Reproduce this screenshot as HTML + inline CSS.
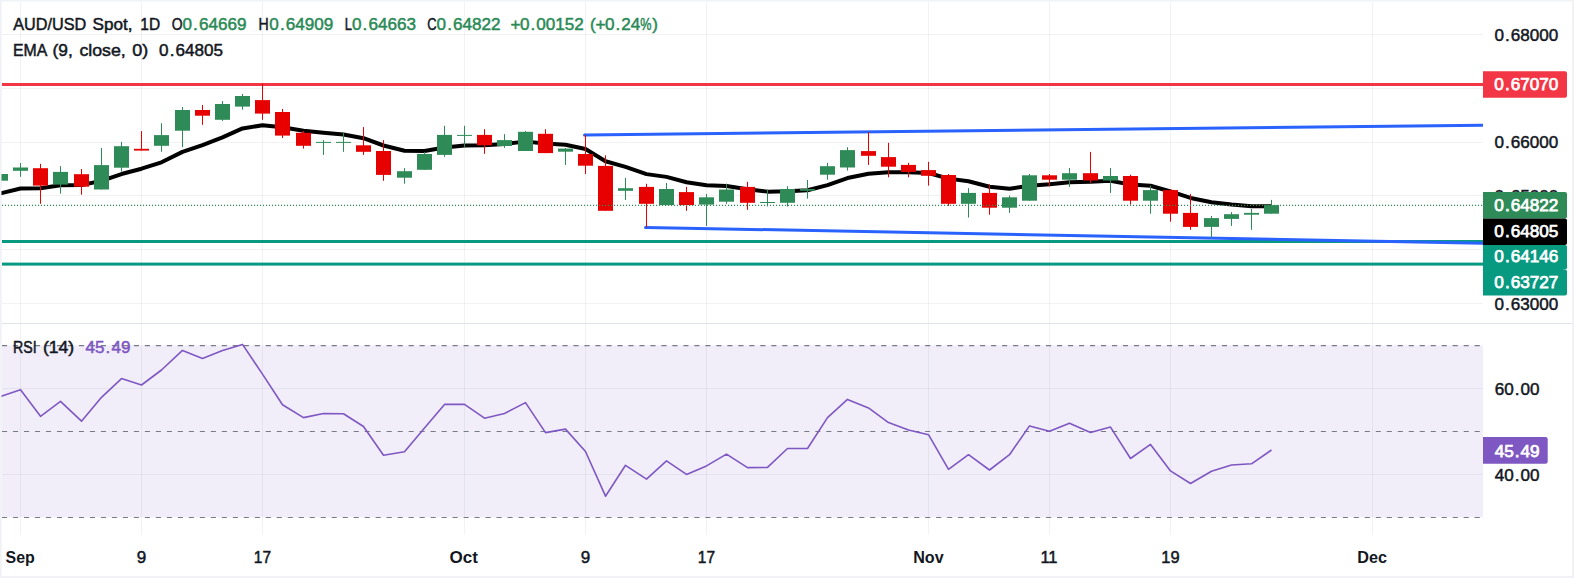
<!DOCTYPE html>
<html lang="en"><head><meta charset="utf-8"><title>AUD/USD Spot, 1D</title>
<style>html,body{margin:0;padding:0;background:#fff;}body{width:1574px;height:578px;overflow:hidden;font-family:"Liberation Sans",Arial,sans-serif;}svg{display:block;}</style>
</head><body>
<svg width="1574" height="578" viewBox="0 0 1574 578">
<rect x="0" y="0" width="1574" height="578" fill="#f0f2f6"/>
<rect x="1.5" y="1.5" width="1570.5" height="574.5" fill="#ffffff"/>
<rect x="2" y="345.3" width="1481" height="171.99999999999994" fill="#f1eefa"/>
<path d="M20.5 2V323M20.5 324V534.5 M141.5 2V323M141.5 324V534.5 M262.5 2V323M262.5 324V534.5 M464.5 2V323M464.5 324V534.5 M585.5 2V323M585.5 324V534.5 M706.5 2V323M706.5 324V534.5 M928.5 2V323M928.5 324V534.5 M1049.5 2V323M1049.5 324V534.5 M1170.5 2V323M1170.5 324V534.5 M1372.5 2V323M1372.5 324V534.5 M2 34.5H1483 M2 88.5H1483 M2 142.5H1483 M2 195.5H1483 M2 249.5H1483 M2 303.5H1483 M2 388.5H1483 M2 474.5H1483" stroke="rgba(42,46,57,0.062)" stroke-width="1" fill="none"/>
<rect x="1.5" y="323" width="1570.5" height="1" fill="#e0e3eb"/>
<rect x="2" y="83" width="1481" height="3" fill="#f23645"/>
<rect x="2" y="240" width="1481" height="3" fill="#089981"/>
<rect x="2" y="262.6" width="1481" height="3" fill="#089981"/>
<polyline points="0.5,193.4 20.5,188.46 40.5,188.2 60.5,185.22 81.5,184.93 101.5,180.85 121.5,174.02 141.5,168.72 161.5,162.3 182.5,151.9 202.5,145.02 222.5,137.3 242.5,128.44 262.5,125.25 282.5,127.31 303.5,130.69 323.5,132.81 343.5,134.57 363.5,138.19 383.5,145.5 404.5,150.75 424.5,151.07 444.5,147.46 464.5,145.39 484.5,145.22 504.5,143.89 525.5,141.63 545.5,143.4 565.5,144.8 585.5,148.97 605.5,161.24 625.5,166.91 646.5,174.11 666.5,176.89 686.5,182.28 706.5,185.28 726.5,186.02 747.5,189.25 767.5,191.63 787.5,191.17 807.5,190.26 827.5,185.18 847.5,178.08 868.5,173.73 888.5,172.32 908.5,172.24 928.5,172.96 948.5,178.62 968.5,181.27 989.5,186.69 1009.5,188.7 1029.5,185.76 1049.5,184.34 1069.5,182.25 1090.5,181.63 1110.5,180.75 1130.5,184.62 1150.5,185.79 1170.5,191.46 1190.5,197.95 1211.5,202.25 1231.5,204.57 1251.5,206.18 1271.5,206.14" stroke="#000" stroke-width="4" fill="none" stroke-linejoin="round"/>
<path d="M584.5 135L1483 125.2" stroke="#2962ff" stroke-width="3" fill="none"/><circle cx="584.5" cy="135" r="1.5" fill="#2962ff"/>
<path d="M645.5 227.4L1483 243.2" stroke="#2962ff" stroke-width="3" fill="none"/><circle cx="645.5" cy="227.4" r="1.5" fill="#2962ff"/>
<rect x="-7.0" y="174.0" width="15" height="6.7" fill="#2e8b57"/>
<rect x="20.0" y="163.0" width="1" height="13.8" fill="#2e8b57"/>
<rect x="13.0" y="167.5" width="15" height="3.3" fill="#2e8b57"/>
<rect x="40.0" y="163.8" width="1" height="40.0" fill="#e60000"/>
<rect x="33.0" y="168.2" width="15" height="17.4" fill="#e60000"/>
<rect x="60.0" y="166.2" width="1" height="27.5" fill="#2e8b57"/>
<rect x="53.0" y="171.9" width="15" height="12.7" fill="#2e8b57"/>
<rect x="81.0" y="169.0" width="1" height="25.7" fill="#e60000"/>
<rect x="74.0" y="174.2" width="15" height="12.5" fill="#e60000"/>
<rect x="101.0" y="148.0" width="1" height="41.5" fill="#2e8b57"/>
<rect x="94.0" y="165.1" width="15" height="24.4" fill="#2e8b57"/>
<rect x="121.0" y="141.8" width="1" height="29.6" fill="#2e8b57"/>
<rect x="114.0" y="146.2" width="15" height="21.5" fill="#2e8b57"/>
<rect x="141.0" y="131.1" width="1" height="19.5" fill="#e60000"/>
<rect x="134.0" y="148.8" width="15" height="1.8" fill="#e60000"/>
<rect x="161.0" y="123.2" width="1" height="28.6" fill="#2e8b57"/>
<rect x="154.0" y="135.1" width="15" height="10.7" fill="#2e8b57"/>
<rect x="182.0" y="107.1" width="1" height="40.0" fill="#2e8b57"/>
<rect x="175.0" y="110.0" width="15" height="20.7" fill="#2e8b57"/>
<rect x="202.0" y="105.0" width="1" height="19.8" fill="#e60000"/>
<rect x="195.0" y="110.0" width="15" height="5.7" fill="#e60000"/>
<rect x="222.0" y="101.1" width="1" height="19.8" fill="#2e8b57"/>
<rect x="215.0" y="104.0" width="15" height="15.8" fill="#2e8b57"/>
<rect x="242.0" y="93.9" width="1" height="15.8" fill="#2e8b57"/>
<rect x="235.0" y="96.0" width="15" height="10.6" fill="#2e8b57"/>
<rect x="262.0" y="83.5" width="1" height="36.3" fill="#e60000"/>
<rect x="255.0" y="100.1" width="15" height="13.5" fill="#e60000"/>
<rect x="282.0" y="108.9" width="1" height="29.1" fill="#e60000"/>
<rect x="275.0" y="112.0" width="15" height="23.6" fill="#e60000"/>
<rect x="303.0" y="131.0" width="1" height="17.6" fill="#e60000"/>
<rect x="296.0" y="132.8" width="15" height="13.0" fill="#e60000"/>
<rect x="323.0" y="140.1" width="1" height="14.8" fill="#2e8b57"/>
<rect x="316.0" y="141.9" width="15" height="1.0" fill="#2e8b57"/>
<rect x="343.0" y="132.8" width="1" height="19.0" fill="#2e8b57"/>
<rect x="336.0" y="141.9" width="15" height="1.0" fill="#2e8b57"/>
<rect x="363.0" y="127.1" width="1" height="27.8" fill="#e60000"/>
<rect x="356.0" y="145.3" width="15" height="6.5" fill="#e60000"/>
<rect x="383.0" y="140.1" width="1" height="40.7" fill="#e60000"/>
<rect x="376.0" y="151.0" width="15" height="23.9" fill="#e60000"/>
<rect x="404.0" y="168.1" width="1" height="15.6" fill="#2e8b57"/>
<rect x="397.0" y="171.2" width="15" height="6.5" fill="#2e8b57"/>
<rect x="424.0" y="152.0" width="1" height="17.8" fill="#2e8b57"/>
<rect x="417.0" y="154.0" width="15" height="15.8" fill="#2e8b57"/>
<rect x="444.0" y="125.8" width="1" height="31.1" fill="#2e8b57"/>
<rect x="437.0" y="134.9" width="15" height="20.0" fill="#2e8b57"/>
<rect x="464.0" y="125.8" width="1" height="21.3" fill="#2e8b57"/>
<rect x="457.0" y="134.9" width="15" height="1.0" fill="#2e8b57"/>
<rect x="484.0" y="129.2" width="1" height="24.6" fill="#e60000"/>
<rect x="477.0" y="134.9" width="15" height="10.4" fill="#e60000"/>
<rect x="504.0" y="134.1" width="1" height="13.8" fill="#2e8b57"/>
<rect x="497.0" y="140.1" width="15" height="5.9" fill="#2e8b57"/>
<rect x="525.0" y="131.0" width="1" height="20.0" fill="#2e8b57"/>
<rect x="518.0" y="131.8" width="15" height="19.2" fill="#2e8b57"/>
<rect x="545.0" y="129.2" width="1" height="23.9" fill="#e60000"/>
<rect x="538.0" y="133.8" width="15" height="19.3" fill="#e60000"/>
<rect x="565.0" y="148.0" width="1" height="16.9" fill="#2e8b57"/>
<rect x="558.0" y="148.6" width="15" height="3.1" fill="#2e8b57"/>
<rect x="585.0" y="135.0" width="1" height="39.0" fill="#e60000"/>
<rect x="578.0" y="154.0" width="15" height="11.7" fill="#e60000"/>
<rect x="605.0" y="155.3" width="1" height="55.5" fill="#e60000"/>
<rect x="598.0" y="165.9" width="15" height="44.9" fill="#e60000"/>
<rect x="625.0" y="177.9" width="1" height="22.0" fill="#2e8b57"/>
<rect x="618.0" y="188.2" width="15" height="2.6" fill="#2e8b57"/>
<rect x="646.0" y="183.8" width="1" height="43.4" fill="#e60000"/>
<rect x="639.0" y="186.9" width="15" height="16.9" fill="#e60000"/>
<rect x="666.0" y="183.0" width="1" height="22.1" fill="#2e8b57"/>
<rect x="659.0" y="189.0" width="15" height="16.1" fill="#2e8b57"/>
<rect x="686.0" y="186.9" width="1" height="23.9" fill="#e60000"/>
<rect x="679.0" y="192.1" width="15" height="13.0" fill="#e60000"/>
<rect x="706.0" y="194.0" width="1" height="31.9" fill="#2e8b57"/>
<rect x="699.0" y="197.3" width="15" height="7.3" fill="#2e8b57"/>
<rect x="726.0" y="183.6" width="1" height="20.2" fill="#2e8b57"/>
<rect x="719.0" y="189.5" width="15" height="12.2" fill="#2e8b57"/>
<rect x="747.0" y="181.8" width="1" height="28.0" fill="#e60000"/>
<rect x="740.0" y="186.9" width="15" height="15.9" fill="#e60000"/>
<rect x="767.0" y="189.5" width="1" height="16.9" fill="#2e8b57"/>
<rect x="760.0" y="202.0" width="15" height="1.0" fill="#2e8b57"/>
<rect x="787.0" y="186.2" width="1" height="20.2" fill="#2e8b57"/>
<rect x="780.0" y="189.0" width="15" height="13.8" fill="#2e8b57"/>
<rect x="807.0" y="179.9" width="1" height="18.7" fill="#2e8b57"/>
<rect x="800.0" y="189.0" width="15" height="1.8" fill="#2e8b57"/>
<rect x="827.0" y="162.8" width="1" height="16.9" fill="#2e8b57"/>
<rect x="820.0" y="166.2" width="15" height="8.5" fill="#2e8b57"/>
<rect x="847.0" y="147.2" width="1" height="23.4" fill="#2e8b57"/>
<rect x="840.0" y="150.1" width="15" height="17.4" fill="#2e8b57"/>
<rect x="868.0" y="131.9" width="1" height="33.0" fill="#e60000"/>
<rect x="861.0" y="151.1" width="15" height="4.7" fill="#e60000"/>
<rect x="888.0" y="142.8" width="1" height="34.5" fill="#e60000"/>
<rect x="881.0" y="157.1" width="15" height="9.6" fill="#e60000"/>
<rect x="908.0" y="162.8" width="1" height="14.5" fill="#e60000"/>
<rect x="901.0" y="164.9" width="15" height="7.0" fill="#e60000"/>
<rect x="928.0" y="161.8" width="1" height="23.8" fill="#e60000"/>
<rect x="921.0" y="170.1" width="15" height="5.7" fill="#e60000"/>
<rect x="948.0" y="174.0" width="1" height="31.9" fill="#e60000"/>
<rect x="941.0" y="175.0" width="15" height="28.8" fill="#e60000"/>
<rect x="968.0" y="188.2" width="1" height="29.4" fill="#2e8b57"/>
<rect x="961.0" y="192.9" width="15" height="10.9" fill="#2e8b57"/>
<rect x="989.0" y="184.3" width="1" height="30.4" fill="#e60000"/>
<rect x="982.0" y="192.9" width="15" height="14.8" fill="#e60000"/>
<rect x="1009.0" y="195.5" width="1" height="17.4" fill="#2e8b57"/>
<rect x="1002.0" y="197.3" width="15" height="10.4" fill="#2e8b57"/>
<rect x="1029.0" y="174.0" width="1" height="26.7" fill="#2e8b57"/>
<rect x="1022.0" y="175.3" width="15" height="25.4" fill="#2e8b57"/>
<rect x="1049.0" y="174.0" width="1" height="12.4" fill="#e60000"/>
<rect x="1042.0" y="175.3" width="15" height="4.4" fill="#e60000"/>
<rect x="1069.0" y="168.0" width="1" height="18.9" fill="#2e8b57"/>
<rect x="1062.0" y="173.2" width="15" height="6.5" fill="#2e8b57"/>
<rect x="1090.0" y="151.9" width="1" height="31.1" fill="#e60000"/>
<rect x="1083.0" y="173.2" width="15" height="7.3" fill="#e60000"/>
<rect x="1110.0" y="168.0" width="1" height="24.9" fill="#2e8b57"/>
<rect x="1103.0" y="176.0" width="15" height="4.5" fill="#2e8b57"/>
<rect x="1130.0" y="174.7" width="1" height="29.9" fill="#e60000"/>
<rect x="1123.0" y="176.0" width="15" height="24.7" fill="#e60000"/>
<rect x="1150.0" y="185.6" width="1" height="28.1" fill="#2e8b57"/>
<rect x="1143.0" y="190.1" width="15" height="10.6" fill="#2e8b57"/>
<rect x="1170.0" y="189.0" width="1" height="32.7" fill="#e60000"/>
<rect x="1163.0" y="190.1" width="15" height="23.6" fill="#e60000"/>
<rect x="1190.0" y="194.0" width="1" height="35.8" fill="#e60000"/>
<rect x="1183.0" y="212.9" width="15" height="14.0" fill="#e60000"/>
<rect x="1211.0" y="216.0" width="1" height="21.6" fill="#2e8b57"/>
<rect x="1204.0" y="218.1" width="15" height="8.8" fill="#2e8b57"/>
<rect x="1231.0" y="212.1" width="1" height="13.8" fill="#2e8b57"/>
<rect x="1224.0" y="214.2" width="15" height="4.7" fill="#2e8b57"/>
<rect x="1251.0" y="209.0" width="1" height="20.8" fill="#2e8b57"/>
<rect x="1244.0" y="212.9" width="15" height="1.8" fill="#2e8b57"/>
<rect x="1271.0" y="199.9" width="1" height="13.8" fill="#2e8b57"/>
<rect x="1264.0" y="205.1" width="15" height="8.6" fill="#2e8b57"/>
<path d="M2 205.4H1483" stroke="#2e8b57" stroke-width="1.3" stroke-dasharray="1.1 1.9" fill="none"/>
<path d="M2 345.6H1483" stroke="#787b86" stroke-width="1.1" stroke-dasharray="5.1 5.89" fill="none"/>
<path d="M2 431.5H1483" stroke="#787b86" stroke-width="1.1" stroke-dasharray="5.1 5.89" fill="none"/>
<path d="M2 517.5H1483" stroke="#787b86" stroke-width="1.1" stroke-dasharray="5.1 5.89" fill="none"/>
<polyline points="0.5,396.6 20.5,389.7 40.5,416.3 60.5,401.4 81.5,421.2 101.5,397.3 121.5,378.6 141.5,385 161.5,370 182.5,350.4 202.5,358.5 222.5,350.6 242.5,344.4 262.5,374.1 282.5,404.7 303.5,417.6 323.5,413.5 343.5,413.8 363.5,426.5 383.5,455.3 404.5,451.8 424.5,428 444.5,404.4 464.5,404.4 484.5,418.2 504.5,413.5 525.5,402.6 545.5,432.6 565.5,429.1 585.5,451.5 605.5,496.2 625.5,465.3 646.5,479.1 666.5,460.9 686.5,474.4 706.5,465.9 726.5,454.1 747.5,467.6 767.5,467.4 787.5,448.5 807.5,448.5 827.5,417.6 847.5,399.4 868.5,407.9 888.5,422.6 908.5,430 928.5,434.7 948.5,469.4 968.5,454.7 989.5,470 1009.5,454.7 1029.5,425.9 1049.5,431.2 1069.5,423.2 1090.5,432.4 1110.5,427.1 1130.5,458.5 1150.5,444.4 1170.5,470.9 1190.5,483.5 1211.5,471.2 1231.5,465 1251.5,463.8 1271.5,450" stroke="#7e57c2" stroke-width="1.6" fill="none" stroke-linejoin="round"/>
<rect x="0" y="0" width="1.5" height="578" fill="#f0f2f6"/>
<g font-family="'Liberation Sans', Arial, sans-serif">
<text y="29.8" font-size="17" fill="#131722" stroke="#131722" stroke-width="0.5"><tspan x="13.2" textLength="73" lengthAdjust="spacingAndGlyphs">AUD/USD</tspan> <tspan x="92.6" textLength="40" lengthAdjust="spacingAndGlyphs">Spot,</tspan> <tspan x="140.3" textLength="19.8" lengthAdjust="spacingAndGlyphs">1D</tspan></text>
<text x="171.7" y="29.8" font-size="17" font-weight="normal" fill="#131722" stroke="#131722" stroke-width="0.5" text-anchor="start" textLength="10.8" lengthAdjust="spacingAndGlyphs">O</text>
<text x="182.5 193.08 198.9 208.4 217.9 227.4 236.9" y="29.8" font-size="17.08" fill="#2a8a56" stroke="#2a8a56" stroke-width="0.5">0.64669</text>
<text x="258.5" y="29.8" font-size="17" font-weight="normal" fill="#131722" stroke="#131722" stroke-width="0.5" text-anchor="start" textLength="10.2" lengthAdjust="spacingAndGlyphs">H</text>
<text x="269.3 279.88 285.7 295.2 304.7 314.2 323.7" y="29.8" font-size="17.08" fill="#2a8a56" stroke="#2a8a56" stroke-width="0.5">0.64909</text>
<text x="344.7" y="29.8" font-size="17" font-weight="normal" fill="#131722" stroke="#131722" stroke-width="0.5" text-anchor="start" textLength="7.2" lengthAdjust="spacingAndGlyphs">L</text>
<text x="352.0 362.58 368.4 377.9 387.4 396.9 406.4" y="29.8" font-size="17.08" fill="#2a8a56" stroke="#2a8a56" stroke-width="0.5">0.64663</text>
<text x="427.2" y="29.8" font-size="17" font-weight="normal" fill="#131722" stroke="#131722" stroke-width="0.5" text-anchor="start" textLength="9.3" lengthAdjust="spacingAndGlyphs">C</text>
<text x="436.6 447.18 453.0 462.5 472.0 481.5 491.0" y="29.8" font-size="17.08" fill="#2a8a56" stroke="#2a8a56" stroke-width="0.5">0.64822</text>
<text x="510.56 519.9 530.48 536.3 545.8 555.3 564.8 574.3" y="29.8" font-size="17.08" fill="#2a8a56" stroke="#2a8a56" stroke-width="0.5">+0.00152</text>
<text y="29.8" font-size="17" fill="#2a8a56" stroke="#2a8a56" stroke-width="0.5"><tspan x="590">(</tspan><tspan font-size="17.08" x="595.56 604.9 615.48 621.3 630.8">+0.24</tspan><tspan x="640.3" textLength="11.2" lengthAdjust="spacingAndGlyphs">%</tspan><tspan x="652.2">)</tspan></text>
<text y="55.8" font-size="17" fill="#131722" stroke="#131722" stroke-width="0.5"><tspan x="13" textLength="33.5" lengthAdjust="spacingAndGlyphs">EMA</tspan> <tspan x="52.6" textLength="20.2" lengthAdjust="spacingAndGlyphs">(9,</tspan> <tspan x="79.4" textLength="46.4" lengthAdjust="spacingAndGlyphs">close,</tspan> <tspan x="132.3" textLength="16" lengthAdjust="spacingAndGlyphs">0)</tspan></text>
<text x="159.1 169.68 175.5 185.0 194.5 204.0 213.5" y="55.8" font-size="17.08" fill="#131722" stroke="#131722" stroke-width="0.5">0.64805</text>
<text y="352.5" font-size="17" fill="#131722" stroke="#131722" stroke-width="0.5"><tspan x="13" textLength="23.6" lengthAdjust="spacingAndGlyphs">RSI</tspan> <tspan x="43" textLength="31.2" lengthAdjust="spacingAndGlyphs">(14)</tspan></text>
<text x="85.5 95.0 105.58 111.4 120.9" y="352.5" font-size="17.08" fill="#7e57c2" stroke="#7e57c2" stroke-width="0.5">45.49</text>
<text x="1494.4 1504.98 1510.8 1520.3 1529.8 1539.3 1548.8" y="40.7" font-size="17.08" fill="#131722" stroke="#131722" stroke-width="0.5">0.68000</text>
<text x="1494.4 1504.98 1510.8 1520.3 1529.8 1539.3 1548.8" y="148.3" font-size="17.08" fill="#131722" stroke="#131722" stroke-width="0.5">0.66000</text>
<text x="1494.4 1504.98 1510.8 1520.3 1529.8 1539.3 1548.8" y="202.1" font-size="17.08" fill="#131722" stroke="#131722" stroke-width="0.5">0.65000</text>
<text x="1494.4 1504.98 1510.8 1520.3 1529.8 1539.3 1548.8" y="309.7" font-size="17.08" fill="#131722" stroke="#131722" stroke-width="0.5">0.63000</text>
<text x="1494.7 1504.2 1514.78 1520.6 1530.1" y="394.9" font-size="17.08" fill="#131722" stroke="#131722" stroke-width="0.5">60.00</text>
<text x="1494.7 1504.2 1514.78 1520.6 1530.1" y="481.0" font-size="17.08" fill="#131722" stroke="#131722" stroke-width="0.5">40.00</text>
<path d="M1483 71.2H1565Q1567 71.2 1567 73.2V95.8Q1567 97.8 1565 97.8H1483Z" fill="#f23645"/>
<text x="1494.37 1504.96 1510.77 1520.27 1529.77 1539.27 1548.77" y="90.3" font-size="17.2" fill="#ffffff" stroke="#ffffff" stroke-width="0.75">0.67070</text>
<path d="M1483 192.1H1565Q1567 192.1 1567 194.1V216.6Q1567 218.6 1565 218.6H1483Z" fill="#2e8b57"/>
<text x="1494.37 1504.96 1510.77 1520.27 1529.77 1539.27 1548.77" y="210.9" font-size="17.2" fill="#ffffff" stroke="#ffffff" stroke-width="0.75">0.64822</text>
<path d="M1483 218.6H1565Q1567 218.6 1567 220.6V242.9Q1567 244.9 1565 244.9H1483Z" fill="#000000"/>
<text x="1494.37 1504.96 1510.77 1520.27 1529.77 1539.27 1548.77" y="236.7" font-size="17.2" fill="#ffffff" stroke="#ffffff" stroke-width="0.75">0.64805</text>
<rect x="1483" y="268" width="80" height="4" fill="#089981"/>
<path d="M1483 244.9H1565Q1567 244.9 1567 246.9V267.6Q1567 269.6 1565 269.6H1483Z" fill="#089981"/>
<text x="1494.37 1504.96 1510.77 1520.27 1529.77 1539.27 1548.77" y="261.9" font-size="17.2" fill="#ffffff" stroke="#ffffff" stroke-width="0.75">0.64146</text>
<path d="M1483 269.6H1565Q1567 269.6 1567 271.6V293.5Q1567 295.5 1565 295.5H1483Z" fill="#089981"/>
<text x="1494.37 1504.96 1510.77 1520.27 1529.77 1539.27 1548.77" y="287.9" font-size="17.2" fill="#ffffff" stroke="#ffffff" stroke-width="0.75">0.63727</text>
<path d="M1483 437H1545.5Q1547.7 437 1547.7 439.2V461.6Q1547.7 463.8 1545.5 463.8H1483Z" fill="#7e57c2"/>
<text x="1494.67 1504.17 1514.76 1520.57 1530.07" y="457" font-size="17.2" fill="#ffffff" stroke="#ffffff" stroke-width="0.75">45.49</text>
<text x="5.6" y="563" font-size="17" font-weight="bold" fill="#131722" text-anchor="start" textLength="29.2" lengthAdjust="spacingAndGlyphs">Sep</text>
<text x="141.5" y="563" font-size="17" font-weight="normal" fill="#131722" stroke="#131722" stroke-width="0.5" text-anchor="middle">9</text>
<text x="262.5" y="563" font-size="17" font-weight="normal" fill="#131722" stroke="#131722" stroke-width="0.5" text-anchor="middle" textLength="17.3" lengthAdjust="spacingAndGlyphs">17</text>
<text x="449.6" y="563" font-size="17" font-weight="bold" fill="#131722" text-anchor="start" textLength="28.4" lengthAdjust="spacingAndGlyphs">Oct</text>
<text x="585.5" y="563" font-size="17" font-weight="normal" fill="#131722" stroke="#131722" stroke-width="0.5" text-anchor="middle">9</text>
<text x="706.5" y="563" font-size="17" font-weight="normal" fill="#131722" stroke="#131722" stroke-width="0.5" text-anchor="middle" textLength="17.3" lengthAdjust="spacingAndGlyphs">17</text>
<text x="913.2" y="563" font-size="17" font-weight="bold" fill="#131722" text-anchor="start" textLength="30.5" lengthAdjust="spacingAndGlyphs">Nov</text>
<text x="1049" y="563" font-size="17" font-weight="normal" fill="#131722" stroke="#131722" stroke-width="0.5" text-anchor="middle" textLength="17.2" lengthAdjust="spacingAndGlyphs">11</text>
<text x="1170.5" y="563" font-size="17" font-weight="normal" fill="#131722" stroke="#131722" stroke-width="0.5" text-anchor="middle" textLength="18.3" lengthAdjust="spacingAndGlyphs">19</text>
<text x="1357.3" y="563" font-size="17" font-weight="bold" fill="#131722" text-anchor="start" textLength="29.7" lengthAdjust="spacingAndGlyphs">Dec</text>
</g>
</svg>
</body></html>
